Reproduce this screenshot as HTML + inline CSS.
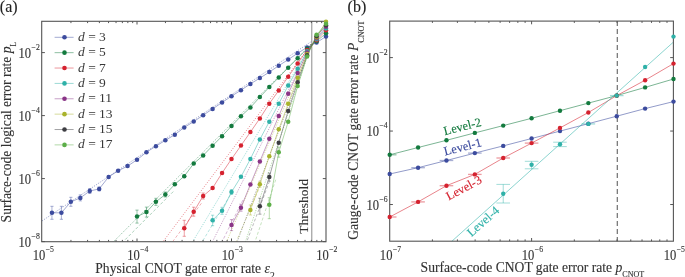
<!DOCTYPE html>
<html><head><meta charset="utf-8"><style>html,body{margin:0;padding:0;background:#fff;overflow:hidden;}svg{display:block;will-change:transform;}text{font-family:"Liberation Serif",serif;stroke-width:0.12px;}</style></head><body>
<svg width="685" height="277" viewBox="0 0 685 277">
<rect width="685" height="277" fill="#fff"/>
<defs><clipPath id="ca"><rect x="41.7" y="21.3" width="284.3" height="220.39999999999998"/></clipPath>
<clipPath id="cb"><rect x="389.6" y="20.7" width="283.79999999999995" height="220.60000000000002"/></clipPath></defs>
<g clip-path="url(#ca)" fill="none" stroke-width="0.7">
<line x1="311.4" y1="41.5" x2="5.86" y2="245" stroke="#3c4b9e" stroke-opacity="0.7" stroke-dasharray="1.2 1.3"/>
<line x1="311.4" y1="44" x2="110.21" y2="245" stroke="#137a3e" stroke-opacity="0.65" stroke-dasharray="1.2 1.3"/>
<line x1="173.26" y1="191.6" x2="119.81" y2="245" stroke="#137a3e" stroke-opacity="0.5" stroke-dasharray="3 2"/>
<line x1="311.4" y1="44" x2="160.51" y2="245" stroke="#d5222f" stroke-opacity="0.65" stroke-dasharray="1.2 1.3"/>
<line x1="201.41" y1="203.3" x2="170.11" y2="245" stroke="#d5222f" stroke-opacity="0.5" stroke-dasharray="3 2"/>
<line x1="311.4" y1="44" x2="190.69" y2="245" stroke="#2fb1a8" stroke-opacity="0.65" stroke-dasharray="1.2 1.3"/>
<line x1="230.19" y1="195.2" x2="200.29" y2="245" stroke="#2fb1a8" stroke-opacity="0.5" stroke-dasharray="3 2"/>
<line x1="311.4" y1="44" x2="210.8" y2="245" stroke="#8a3587" stroke-opacity="0.65" stroke-dasharray="1.2 1.3"/>
<line x1="242.88" y1="200.1" x2="220.4" y2="245" stroke="#8a3587" stroke-opacity="0.5" stroke-dasharray="3 2"/>
<line x1="311.4" y1="44" x2="225.18" y2="245" stroke="#a9b32c" stroke-opacity="0.65" stroke-dasharray="1.2 1.3"/>
<line x1="260.51" y1="185" x2="234.78" y2="245" stroke="#a9b32c" stroke-opacity="0.5" stroke-dasharray="3 2"/>
<line x1="311.4" y1="44" x2="235.95" y2="245" stroke="#3d3d42" stroke-opacity="0.65" stroke-dasharray="1.2 1.3"/>
<line x1="269.5" y1="181.2" x2="245.55" y2="245" stroke="#3d3d42" stroke-opacity="0.5" stroke-dasharray="3 2"/>
<line x1="311.4" y1="44" x2="244.34" y2="245" stroke="#5cae48" stroke-opacity="0.65" stroke-dasharray="1.2 1.3"/>
<line x1="275.72" y1="179.7" x2="253.94" y2="245" stroke="#5cae48" stroke-opacity="0.5" stroke-dasharray="3 2"/>
</g>
<line x1="311.8" y1="21.3" x2="311.8" y2="241.7" stroke="#8a8a8a" stroke-width="1"/>
<g>
<polyline fill="none" stroke="#3c4b9e" stroke-opacity="0.75" stroke-width="0.65" points="51.95,212.8 61.4,212.8 70.85,201.8 80.3,197.9 89.75,191 99.2,188.9 108.65,176.9 118.1,170.8 127.55,166.1 137,159.8 146.45,152.2 155.9,146.2 165.35,140.3 174.8,134.7 184.25,127.4 193.7,121.6 203.15,115.2 212.6,108.9 222.05,102.5 231.5,96.2 240.95,90.2 250.4,83.9 259.85,78.1 269.3,72.1 278.75,65.7 288.2,59.6 297.65,53.2 307.1,47.4 316.55,42.6 326,36.5"/>
<path d="M51.95 206.3V219.3M50.35 206.3H53.55M50.35 219.3H53.55" stroke="#3c4b9e" stroke-opacity="0.55" stroke-width="0.8" fill="none"/>
<path d="M61.4 206.3V219.3M59.8 206.3H63M59.8 219.3H63" stroke="#3c4b9e" stroke-opacity="0.55" stroke-width="0.8" fill="none"/>
<path d="M70.85 197.3V206.3M69.25 197.3H72.45M69.25 206.3H72.45" stroke="#3c4b9e" stroke-opacity="0.55" stroke-width="0.8" fill="none"/>
<path d="M80.3 194.9V200.9M78.7 194.9H81.9M78.7 200.9H81.9" stroke="#3c4b9e" stroke-opacity="0.55" stroke-width="0.8" fill="none"/>
<path d="M89.75 188.5V193.5M88.15 188.5H91.35M88.15 193.5H91.35" stroke="#3c4b9e" stroke-opacity="0.55" stroke-width="0.8" fill="none"/>
<path d="M99.2 186.9V190.9M97.6 186.9H100.8M97.6 190.9H100.8" stroke="#3c4b9e" stroke-opacity="0.55" stroke-width="0.8" fill="none"/>
<polyline fill="none" stroke="#137a3e" stroke-opacity="0.75" stroke-width="0.65" points="137,216.6 146.45,212.1 155.9,201.8 165.35,194.5 174.8,184.3 184.25,176.2 193.7,163.6 203.15,155.5 212.6,145.7 222.05,136.2 231.5,126.1 240.95,116.2 250.4,107.5 259.85,97.1 269.3,87.1 278.75,77.4 288.2,67.7 297.65,58.2 307.1,48.7 316.55,41.3 326,33.3"/>
<path d="M137 210.1V223.1M135.4 210.1H138.6M135.4 223.1H138.6" stroke="#137a3e" stroke-opacity="0.55" stroke-width="0.8" fill="none"/>
<path d="M146.45 207.1V217.1M144.85 207.1H148.05M144.85 217.1H148.05" stroke="#137a3e" stroke-opacity="0.55" stroke-width="0.8" fill="none"/>
<path d="M155.9 198.3V205.3M154.3 198.3H157.5M154.3 205.3H157.5" stroke="#137a3e" stroke-opacity="0.55" stroke-width="0.8" fill="none"/>
<path d="M165.35 192V197M163.75 192H166.95M163.75 197H166.95" stroke="#137a3e" stroke-opacity="0.55" stroke-width="0.8" fill="none"/>
<polyline fill="none" stroke="#d5222f" stroke-opacity="0.75" stroke-width="0.65" points="184.25,228.3 193.7,211.7 203.15,196 212.6,188 222.05,173 231.5,159 240.95,145.6 250.4,132.1 259.85,118.4 269.3,103.7 278.75,90.5 288.2,76.7 297.65,63.5 307.1,50 316.55,40.2 326,30.3"/>
<path d="M184.25 220.3V236.3M182.65 220.3H185.85M182.65 236.3H185.85" stroke="#d5222f" stroke-opacity="0.55" stroke-width="0.8" fill="none"/>
<path d="M193.7 207.2V216.2M192.1 207.2H195.3M192.1 216.2H195.3" stroke="#d5222f" stroke-opacity="0.55" stroke-width="0.8" fill="none"/>
<path d="M203.15 193V199M201.55 193H204.75M201.55 199H204.75" stroke="#d5222f" stroke-opacity="0.55" stroke-width="0.8" fill="none"/>
<polyline fill="none" stroke="#2fb1a8" stroke-opacity="0.75" stroke-width="0.65" points="212.6,220.2 222.05,210.8 231.5,192 240.95,176.8 250.4,159 259.85,139.4 269.3,121.7 278.75,103.7 288.2,85.6 297.65,68.7 307.1,51.3 316.55,39.2 326,28.5"/>
<path d="M212.6 215.2V225.7M211 215.2H214.2M211 225.7H214.2" stroke="#2fb1a8" stroke-opacity="0.55" stroke-width="0.8" fill="none"/>
<path d="M222.05 207.3V214.3M220.45 207.3H223.65M220.45 214.3H223.65" stroke="#2fb1a8" stroke-opacity="0.55" stroke-width="0.8" fill="none"/>
<path d="M231.5 189.5V194.5M229.9 189.5H233.1M229.9 194.5H233.1" stroke="#2fb1a8" stroke-opacity="0.55" stroke-width="0.8" fill="none"/>
<polyline fill="none" stroke="#8a3587" stroke-opacity="0.75" stroke-width="0.65" points="231.5,225.1 240.95,207.7 250.4,184.4 259.85,161.4 269.3,138.8 278.75,116 288.2,93.7 297.65,73.1 307.1,52.6 316.55,38.2 326,26.8"/>
<path d="M231.5 219.6V230.6M229.9 219.6H233.1M229.9 230.6H233.1" stroke="#8a3587" stroke-opacity="0.55" stroke-width="0.8" fill="none"/>
<path d="M240.95 204.2V211.2M239.35 204.2H242.55M239.35 211.2H242.55" stroke="#8a3587" stroke-opacity="0.55" stroke-width="0.8" fill="none"/>
<polyline fill="none" stroke="#a9b32c" stroke-opacity="0.75" stroke-width="0.65" points="250.4,210 259.85,184.3 269.3,156.3 278.75,129.3 288.2,103.7 297.65,77.8 307.1,53.9 316.55,37.2 326,21.8"/>
<path d="M250.4 205V215M248.8 205H252M248.8 215H252" stroke="#a9b32c" stroke-opacity="0.55" stroke-width="0.8" fill="none"/>
<path d="M259.85 181.3V187.3M258.25 181.3H261.45M258.25 187.3H261.45" stroke="#a9b32c" stroke-opacity="0.55" stroke-width="0.8" fill="none"/>
<polyline fill="none" stroke="#3d3d42" stroke-opacity="0.75" stroke-width="0.65" points="259.85,206.2 269.3,177.1 278.75,142.8 288.2,110.9 297.65,82.2 307.1,55.2 316.55,36.2 326,25.2"/>
<path d="M259.85 198.2V214.2M258.25 198.2H261.45M258.25 214.2H261.45" stroke="#3d3d42" stroke-opacity="0.55" stroke-width="0.8" fill="none"/>
<path d="M269.3 173.1V181.1M267.7 173.1H270.9M267.7 181.1H270.9" stroke="#3d3d42" stroke-opacity="0.55" stroke-width="0.8" fill="none"/>
<polyline fill="none" stroke="#5cae48" stroke-opacity="0.75" stroke-width="0.65" points="269.3,204.7 278.75,152.2 288.2,121.7 297.65,86.1 307.1,56.5 316.55,34.8 326,23.8"/>
<path d="M269.3 197.7V218.7M267.7 197.7H270.9M267.7 218.7H270.9" stroke="#5cae48" stroke-opacity="0.55" stroke-width="0.8" fill="none"/>
<path d="M278.75 147.2V157.2M277.15 147.2H280.35M277.15 157.2H280.35" stroke="#5cae48" stroke-opacity="0.55" stroke-width="0.8" fill="none"/>
</g>
<path d="M70.95 241.7v-1.8M70.95 21.3v1.8M87.59 241.7v-1.8M87.59 21.3v1.8M99.39 241.7v-1.8M99.39 21.3v1.8M108.55 241.7v-1.8M108.55 21.3v1.8M116.04 241.7v-1.8M116.04 21.3v1.8M122.36 241.7v-1.8M122.36 21.3v1.8M127.84 241.7v-1.8M127.84 21.3v1.8M132.68 241.7v-1.8M132.68 21.3v1.8M137 241.7v-3.2M137 21.3v3.2M165.45 241.7v-1.8M165.45 21.3v1.8M182.09 241.7v-1.8M182.09 21.3v1.8M193.89 241.7v-1.8M193.89 21.3v1.8M203.05 241.7v-1.8M203.05 21.3v1.8M210.54 241.7v-1.8M210.54 21.3v1.8M216.86 241.7v-1.8M216.86 21.3v1.8M222.34 241.7v-1.8M222.34 21.3v1.8M227.18 241.7v-1.8M227.18 21.3v1.8M231.5 241.7v-3.2M231.5 21.3v3.2M259.95 241.7v-1.8M259.95 21.3v1.8M276.59 241.7v-1.8M276.59 21.3v1.8M288.39 241.7v-1.8M288.39 21.3v1.8M297.55 241.7v-1.8M297.55 21.3v1.8M305.04 241.7v-1.8M305.04 21.3v1.8M311.36 241.7v-1.8M311.36 21.3v1.8M316.84 241.7v-1.8M316.84 21.3v1.8M321.68 241.7v-1.8M321.68 21.3v1.8M41.7 52.6h3.2M326.0 52.6h-3.2M41.7 115.6h3.2M326.0 115.6h-3.2M41.7 178.6h3.2M326.0 178.6h-3.2M41.7 241.6h3.2M326.0 241.6h-3.2" stroke="#555" stroke-width="1" fill="none"/>
<rect x="41.7" y="21.3" width="284.3" height="220.4" fill="none" stroke="#555" stroke-width="1.1"/>
<circle cx="51.95" cy="212.8" r="2.25" fill="#3c4b9e"/>
<circle cx="61.4" cy="212.8" r="2.25" fill="#3c4b9e"/>
<circle cx="70.85" cy="201.8" r="2.25" fill="#3c4b9e"/>
<circle cx="80.3" cy="197.9" r="2.25" fill="#3c4b9e"/>
<circle cx="89.75" cy="191" r="2.25" fill="#3c4b9e"/>
<circle cx="99.2" cy="188.9" r="2.25" fill="#3c4b9e"/>
<circle cx="108.65" cy="176.9" r="2.25" fill="#3c4b9e"/>
<circle cx="118.1" cy="170.8" r="2.25" fill="#3c4b9e"/>
<circle cx="127.55" cy="166.1" r="2.25" fill="#3c4b9e"/>
<circle cx="137" cy="159.8" r="2.25" fill="#3c4b9e"/>
<circle cx="146.45" cy="152.2" r="2.25" fill="#3c4b9e"/>
<circle cx="155.9" cy="146.2" r="2.25" fill="#3c4b9e"/>
<circle cx="165.35" cy="140.3" r="2.25" fill="#3c4b9e"/>
<circle cx="174.8" cy="134.7" r="2.25" fill="#3c4b9e"/>
<circle cx="184.25" cy="127.4" r="2.25" fill="#3c4b9e"/>
<circle cx="193.7" cy="121.6" r="2.25" fill="#3c4b9e"/>
<circle cx="203.15" cy="115.2" r="2.25" fill="#3c4b9e"/>
<circle cx="212.6" cy="108.9" r="2.25" fill="#3c4b9e"/>
<circle cx="222.05" cy="102.5" r="2.25" fill="#3c4b9e"/>
<circle cx="231.5" cy="96.2" r="2.25" fill="#3c4b9e"/>
<circle cx="240.95" cy="90.2" r="2.25" fill="#3c4b9e"/>
<circle cx="250.4" cy="83.9" r="2.25" fill="#3c4b9e"/>
<circle cx="259.85" cy="78.1" r="2.25" fill="#3c4b9e"/>
<circle cx="269.3" cy="72.1" r="2.25" fill="#3c4b9e"/>
<circle cx="278.75" cy="65.7" r="2.25" fill="#3c4b9e"/>
<circle cx="288.2" cy="59.6" r="2.25" fill="#3c4b9e"/>
<circle cx="297.65" cy="53.2" r="2.25" fill="#3c4b9e"/>
<circle cx="307.1" cy="47.4" r="2.25" fill="#3c4b9e"/>
<circle cx="316.55" cy="42.6" r="2.25" fill="#3c4b9e"/>
<circle cx="326" cy="36.5" r="2.25" fill="#3c4b9e"/>
<circle cx="137" cy="216.6" r="2.25" fill="#137a3e"/>
<circle cx="146.45" cy="212.1" r="2.25" fill="#137a3e"/>
<circle cx="155.9" cy="201.8" r="2.25" fill="#137a3e"/>
<circle cx="165.35" cy="194.5" r="2.25" fill="#137a3e"/>
<circle cx="174.8" cy="184.3" r="2.25" fill="#137a3e"/>
<circle cx="184.25" cy="176.2" r="2.25" fill="#137a3e"/>
<circle cx="193.7" cy="163.6" r="2.25" fill="#137a3e"/>
<circle cx="203.15" cy="155.5" r="2.25" fill="#137a3e"/>
<circle cx="212.6" cy="145.7" r="2.25" fill="#137a3e"/>
<circle cx="222.05" cy="136.2" r="2.25" fill="#137a3e"/>
<circle cx="231.5" cy="126.1" r="2.25" fill="#137a3e"/>
<circle cx="240.95" cy="116.2" r="2.25" fill="#137a3e"/>
<circle cx="250.4" cy="107.5" r="2.25" fill="#137a3e"/>
<circle cx="259.85" cy="97.1" r="2.25" fill="#137a3e"/>
<circle cx="269.3" cy="87.1" r="2.25" fill="#137a3e"/>
<circle cx="278.75" cy="77.4" r="2.25" fill="#137a3e"/>
<circle cx="288.2" cy="67.7" r="2.25" fill="#137a3e"/>
<circle cx="297.65" cy="58.2" r="2.25" fill="#137a3e"/>
<circle cx="307.1" cy="48.7" r="2.25" fill="#137a3e"/>
<circle cx="316.55" cy="41.3" r="2.25" fill="#137a3e"/>
<circle cx="326" cy="33.3" r="2.25" fill="#137a3e"/>
<circle cx="184.25" cy="228.3" r="2.25" fill="#d5222f"/>
<circle cx="193.7" cy="211.7" r="2.25" fill="#d5222f"/>
<circle cx="203.15" cy="196" r="2.25" fill="#d5222f"/>
<circle cx="212.6" cy="188" r="2.25" fill="#d5222f"/>
<circle cx="222.05" cy="173" r="2.25" fill="#d5222f"/>
<circle cx="231.5" cy="159" r="2.25" fill="#d5222f"/>
<circle cx="240.95" cy="145.6" r="2.25" fill="#d5222f"/>
<circle cx="250.4" cy="132.1" r="2.25" fill="#d5222f"/>
<circle cx="259.85" cy="118.4" r="2.25" fill="#d5222f"/>
<circle cx="269.3" cy="103.7" r="2.25" fill="#d5222f"/>
<circle cx="278.75" cy="90.5" r="2.25" fill="#d5222f"/>
<circle cx="288.2" cy="76.7" r="2.25" fill="#d5222f"/>
<circle cx="297.65" cy="63.5" r="2.25" fill="#d5222f"/>
<circle cx="307.1" cy="50" r="2.25" fill="#d5222f"/>
<circle cx="316.55" cy="40.2" r="2.25" fill="#d5222f"/>
<circle cx="326" cy="30.3" r="2.25" fill="#d5222f"/>
<circle cx="212.6" cy="220.2" r="2.25" fill="#2fb1a8"/>
<circle cx="222.05" cy="210.8" r="2.25" fill="#2fb1a8"/>
<circle cx="231.5" cy="192" r="2.25" fill="#2fb1a8"/>
<circle cx="240.95" cy="176.8" r="2.25" fill="#2fb1a8"/>
<circle cx="250.4" cy="159" r="2.25" fill="#2fb1a8"/>
<circle cx="259.85" cy="139.4" r="2.25" fill="#2fb1a8"/>
<circle cx="269.3" cy="121.7" r="2.25" fill="#2fb1a8"/>
<circle cx="278.75" cy="103.7" r="2.25" fill="#2fb1a8"/>
<circle cx="288.2" cy="85.6" r="2.25" fill="#2fb1a8"/>
<circle cx="297.65" cy="68.7" r="2.25" fill="#2fb1a8"/>
<circle cx="307.1" cy="51.3" r="2.25" fill="#2fb1a8"/>
<circle cx="316.55" cy="39.2" r="2.25" fill="#2fb1a8"/>
<circle cx="326" cy="28.5" r="2.25" fill="#2fb1a8"/>
<circle cx="231.5" cy="225.1" r="2.25" fill="#8a3587"/>
<circle cx="240.95" cy="207.7" r="2.25" fill="#8a3587"/>
<circle cx="250.4" cy="184.4" r="2.25" fill="#8a3587"/>
<circle cx="259.85" cy="161.4" r="2.25" fill="#8a3587"/>
<circle cx="269.3" cy="138.8" r="2.25" fill="#8a3587"/>
<circle cx="278.75" cy="116" r="2.25" fill="#8a3587"/>
<circle cx="288.2" cy="93.7" r="2.25" fill="#8a3587"/>
<circle cx="297.65" cy="73.1" r="2.25" fill="#8a3587"/>
<circle cx="307.1" cy="52.6" r="2.25" fill="#8a3587"/>
<circle cx="316.55" cy="38.2" r="2.25" fill="#8a3587"/>
<circle cx="326" cy="26.8" r="2.25" fill="#8a3587"/>
<circle cx="250.4" cy="210" r="2.25" fill="#a9b32c"/>
<circle cx="259.85" cy="184.3" r="2.25" fill="#a9b32c"/>
<circle cx="269.3" cy="156.3" r="2.25" fill="#a9b32c"/>
<circle cx="278.75" cy="129.3" r="2.25" fill="#a9b32c"/>
<circle cx="288.2" cy="103.7" r="2.25" fill="#a9b32c"/>
<circle cx="297.65" cy="77.8" r="2.25" fill="#a9b32c"/>
<circle cx="307.1" cy="53.9" r="2.25" fill="#a9b32c"/>
<circle cx="316.55" cy="37.2" r="2.25" fill="#a9b32c"/>
<circle cx="326" cy="21.8" r="2.25" fill="#a9b32c"/>
<circle cx="259.85" cy="206.2" r="2.25" fill="#3d3d42"/>
<circle cx="269.3" cy="177.1" r="2.25" fill="#3d3d42"/>
<circle cx="278.75" cy="142.8" r="2.25" fill="#3d3d42"/>
<circle cx="288.2" cy="110.9" r="2.25" fill="#3d3d42"/>
<circle cx="297.65" cy="82.2" r="2.25" fill="#3d3d42"/>
<circle cx="307.1" cy="55.2" r="2.25" fill="#3d3d42"/>
<circle cx="316.55" cy="36.2" r="2.25" fill="#3d3d42"/>
<circle cx="326" cy="25.2" r="2.25" fill="#3d3d42"/>
<circle cx="269.3" cy="204.7" r="2.25" fill="#5cae48"/>
<circle cx="278.75" cy="152.2" r="2.25" fill="#5cae48"/>
<circle cx="288.2" cy="121.7" r="2.25" fill="#5cae48"/>
<circle cx="297.65" cy="86.1" r="2.25" fill="#5cae48"/>
<circle cx="307.1" cy="56.5" r="2.25" fill="#5cae48"/>
<circle cx="316.55" cy="34.8" r="2.25" fill="#5cae48"/>
<circle cx="326" cy="23.8" r="2.25" fill="#5cae48"/>
<line x1="54.6" y1="37.3" x2="73.6" y2="37.3" stroke="#3c4b9e" stroke-opacity="0.6" stroke-width="0.8"/>
<circle cx="64.5" cy="37.3" r="2.3" fill="#3c4b9e"/>
<text x="78" y="40.8" font-size="13.5" fill="#383838" stroke="none" style="font-family:'Liberation Serif', serif"><tspan font-style="italic">d</tspan> = 3</text>
<line x1="54.6" y1="52.67" x2="73.6" y2="52.67" stroke="#137a3e" stroke-opacity="0.6" stroke-width="0.8"/>
<circle cx="64.5" cy="52.67" r="2.3" fill="#137a3e"/>
<text x="78" y="56.17" font-size="13.5" fill="#383838" stroke="none" style="font-family:'Liberation Serif', serif"><tspan font-style="italic">d</tspan> = 5</text>
<line x1="54.6" y1="68.04" x2="73.6" y2="68.04" stroke="#d5222f" stroke-opacity="0.6" stroke-width="0.8"/>
<circle cx="64.5" cy="68.04" r="2.3" fill="#d5222f"/>
<text x="78" y="71.54" font-size="13.5" fill="#383838" stroke="none" style="font-family:'Liberation Serif', serif"><tspan font-style="italic">d</tspan> = 7</text>
<line x1="54.6" y1="83.41" x2="73.6" y2="83.41" stroke="#2fb1a8" stroke-opacity="0.6" stroke-width="0.8"/>
<circle cx="64.5" cy="83.41" r="2.3" fill="#2fb1a8"/>
<text x="78" y="86.91" font-size="13.5" fill="#383838" stroke="none" style="font-family:'Liberation Serif', serif"><tspan font-style="italic">d</tspan> = 9</text>
<line x1="54.6" y1="98.78" x2="73.6" y2="98.78" stroke="#8a3587" stroke-opacity="0.6" stroke-width="0.8"/>
<circle cx="64.5" cy="98.78" r="2.3" fill="#8a3587"/>
<text x="78" y="102.28" font-size="13.5" fill="#383838" stroke="none" style="font-family:'Liberation Serif', serif"><tspan font-style="italic">d</tspan> = 11</text>
<line x1="54.6" y1="114.15" x2="73.6" y2="114.15" stroke="#a9b32c" stroke-opacity="0.6" stroke-width="0.8"/>
<circle cx="64.5" cy="114.15" r="2.3" fill="#a9b32c"/>
<text x="78" y="117.65" font-size="13.5" fill="#383838" stroke="none" style="font-family:'Liberation Serif', serif"><tspan font-style="italic">d</tspan> = 13</text>
<line x1="54.6" y1="129.52" x2="73.6" y2="129.52" stroke="#3d3d42" stroke-opacity="0.6" stroke-width="0.8"/>
<circle cx="64.5" cy="129.52" r="2.3" fill="#3d3d42"/>
<text x="78" y="133.02" font-size="13.5" fill="#383838" stroke="none" style="font-family:'Liberation Serif', serif"><tspan font-style="italic">d</tspan> = 15</text>
<line x1="54.6" y1="144.89" x2="73.6" y2="144.89" stroke="#5cae48" stroke-opacity="0.6" stroke-width="0.8"/>
<circle cx="64.5" cy="144.89" r="2.3" fill="#5cae48"/>
<text x="78" y="148.39" font-size="13.5" fill="#383838" stroke="none" style="font-family:'Liberation Serif', serif"><tspan font-style="italic">d</tspan> = 17</text>
<text transform="translate(39.8,57.8) scale(0.9,1)" text-anchor="end" font-size="14" fill="#333" stroke="#333" stroke-width="0.12" style="font-family:'Liberation Serif', serif">10<tspan dx="0.5" dy="-7.9" font-size="8.6">−2</tspan></text>
<text transform="translate(39.8,120.8) scale(0.9,1)" text-anchor="end" font-size="14" fill="#333" stroke="#333" stroke-width="0.12" style="font-family:'Liberation Serif', serif">10<tspan dx="0.5" dy="-7.9" font-size="8.6">−4</tspan></text>
<text transform="translate(39.8,183.8) scale(0.9,1)" text-anchor="end" font-size="14" fill="#333" stroke="#333" stroke-width="0.12" style="font-family:'Liberation Serif', serif">10<tspan dx="0.5" dy="-7.9" font-size="8.6">−6</tspan></text>
<text transform="translate(39.8,246.8) scale(0.9,1)" text-anchor="end" font-size="14" fill="#333" stroke="#333" stroke-width="0.12" style="font-family:'Liberation Serif', serif">10<tspan dx="0.5" dy="-7.9" font-size="8.6">−8</tspan></text>
<text transform="translate(43.3,260.2) scale(0.9,1)" text-anchor="middle" font-size="14" fill="#333" stroke="#333" stroke-width="0.12" style="font-family:'Liberation Serif', serif">10<tspan dx="0.5" dy="-7.9" font-size="8.6">−5</tspan></text>
<text transform="translate(137.8,260.2) scale(0.9,1)" text-anchor="middle" font-size="14" fill="#333" stroke="#333" stroke-width="0.12" style="font-family:'Liberation Serif', serif">10<tspan dx="0.5" dy="-7.9" font-size="8.6">−4</tspan></text>
<text transform="translate(232.3,260.2) scale(0.9,1)" text-anchor="middle" font-size="14" fill="#333" stroke="#333" stroke-width="0.12" style="font-family:'Liberation Serif', serif">10<tspan dx="0.5" dy="-7.9" font-size="8.6">−3</tspan></text>
<text transform="translate(326.8,260.2) scale(0.9,1)" text-anchor="middle" font-size="14" fill="#333" stroke="#333" stroke-width="0.12" style="font-family:'Liberation Serif', serif">10<tspan dx="0.5" dy="-7.9" font-size="8.6">−2</tspan></text>
<text x="95.3" y="273.1" font-size="13.6" fill="#333" stroke="#333" style="font-family:'Liberation Serif', serif">Physical CNOT gate error rate <tspan font-style="italic">ε</tspan><tspan dy="5.5" font-size="9.5">2</tspan></text>
<text transform="translate(11.3,222.4) rotate(-90)" font-size="13.6" fill="#333" stroke="#333" style="font-family:'Liberation Serif', serif">Surface-code logical error rate <tspan font-style="italic">p</tspan><tspan dy="4.2" font-size="7.5">L</tspan></text>
<text transform="translate(307.6,233.7) rotate(-90)" font-size="13.5" fill="#333" stroke="#333" style="font-family:'Liberation Serif', serif">Threshold</text>
<text x="-0.2" y="11.9" font-size="16" fill="#222" stroke="#222" style="font-family:'Liberation Serif', serif">(a)</text>
<line x1="617.3" y1="21.1" x2="617.3" y2="241.2" stroke="#6e6e6e" stroke-width="1.2" stroke-dasharray="5 3"/>
<g>
<line x1="411.28" y1="167.7" x2="424.88" y2="167.7" stroke="#3c4b9e" stroke-opacity="0.45" stroke-width="1.3"/>
<line x1="439.66" y1="160.5" x2="453.26" y2="160.5" stroke="#3c4b9e" stroke-opacity="0.45" stroke-width="1.3"/>
<line x1="468.04" y1="153.1" x2="481.64" y2="153.1" stroke="#3c4b9e" stroke-opacity="0.45" stroke-width="1.3"/>
<line x1="389.7" y1="217" x2="396.5" y2="217" stroke="#d5222f" stroke-opacity="0.45" stroke-width="1.3"/>
<line x1="411.28" y1="201.9" x2="424.88" y2="201.9" stroke="#d5222f" stroke-opacity="0.45" stroke-width="1.3"/>
<line x1="439.66" y1="185.7" x2="453.26" y2="185.7" stroke="#d5222f" stroke-opacity="0.45" stroke-width="1.3"/>
<line x1="468.04" y1="174.4" x2="481.64" y2="174.4" stroke="#d5222f" stroke-opacity="0.45" stroke-width="1.3"/>
<line x1="496.42" y1="158" x2="510.02" y2="158" stroke="#d5222f" stroke-opacity="0.45" stroke-width="1.3"/>
<line x1="524.8" y1="143.1" x2="538.4" y2="143.1" stroke="#d5222f" stroke-opacity="0.45" stroke-width="1.3"/>
<line x1="389.7" y1="154.8" x2="396.5" y2="154.8" stroke="#137a3e" stroke-opacity="0.45" stroke-width="1.3"/>
<path d="M503.22 184.4V203M496.42 184.4H510.02M496.42 203H510.02" stroke="#2fb1a8" stroke-opacity="0.5" stroke-width="0.9" fill="none"/>
<path d="M531.6 161.3V168.8M524.8 161.3H538.4M524.8 168.8H538.4" stroke="#2fb1a8" stroke-opacity="0.5" stroke-width="0.9" fill="none"/>
<path d="M559.98 142.2V146.6M553.18 142.2H566.78M553.18 146.6H566.78" stroke="#2fb1a8" stroke-opacity="0.5" stroke-width="0.9" fill="none"/>
<line x1="581.56" y1="123.9" x2="595.16" y2="123.9" stroke="#2fb1a8" stroke-opacity="0.45" stroke-width="1.3"/>
<line x1="609.94" y1="95.6" x2="623.54" y2="95.6" stroke="#2fb1a8" stroke-opacity="0.45" stroke-width="1.3"/>
<polyline fill="none" stroke="#3c4b9e" stroke-opacity="0.8" stroke-width="0.7" points="389.7,174 418.08,167.7 446.46,160.5 474.84,153.1 503.22,145.9 531.6,138.5 559.98,131.1 588.36,123.7 616.74,116.2 645.12,108.6 673.5,101.6"/>
<polyline fill="none" stroke="#137a3e" stroke-opacity="0.8" stroke-width="0.7" points="389.7,154.8 418.08,147.5 446.46,140.3 474.84,132.9 503.22,125.6 531.6,118.3 559.98,110.7 588.36,103.1 616.74,95.6 645.12,87.4 673.5,79"/>
<polyline fill="none" stroke="#d5222f" stroke-opacity="0.8" stroke-width="0.7" points="389.7,217 418.08,201.9 446.46,185.7 474.84,174.4 503.22,158 531.6,143.1 559.98,127.9 588.36,112.5 616.74,95.6 645.12,80.2 673.5,63.6"/>
<line x1="451.8" y1="241.3" x2="673.4" y2="42.1" stroke="#2fb1a8" stroke-opacity="0.8" stroke-width="0.7"/>
</g>
<path d="M432.42 241.2v-1.8M432.42 21.1v1.8M457.4 241.2v-1.8M457.4 21.1v1.8M475.13 241.2v-1.8M475.13 21.1v1.8M488.88 241.2v-1.8M488.88 21.1v1.8M500.12 241.2v-1.8M500.12 21.1v1.8M509.62 241.2v-1.8M509.62 21.1v1.8M517.85 241.2v-1.8M517.85 21.1v1.8M525.11 241.2v-1.8M525.11 21.1v1.8M531.6 241.2v-3.2M531.6 21.1v3.2M574.32 241.2v-1.8M574.32 21.1v1.8M599.3 241.2v-1.8M599.3 21.1v1.8M617.03 241.2v-1.8M617.03 21.1v1.8M630.78 241.2v-1.8M630.78 21.1v1.8M642.02 241.2v-1.8M642.02 21.1v1.8M651.52 241.2v-1.8M651.52 21.1v1.8M659.75 241.2v-1.8M659.75 21.1v1.8M667.01 241.2v-1.8M667.01 21.1v1.8M389.7 57.6h3.2M673.4 57.6h-3.2M389.7 131.06h3.2M673.4 131.06h-3.2M389.7 204.52h3.2M673.4 204.52h-3.2" stroke="#555" stroke-width="1" fill="none"/>
<rect x="389.7" y="21.1" width="283.7" height="220.1" fill="none" stroke="#555" stroke-width="1.1"/>
<circle cx="389.7" cy="174" r="2.2" fill="#3c4b9e"/>
<circle cx="418.08" cy="167.7" r="2.2" fill="#3c4b9e"/>
<circle cx="446.46" cy="160.5" r="2.2" fill="#3c4b9e"/>
<circle cx="474.84" cy="153.1" r="2.2" fill="#3c4b9e"/>
<circle cx="503.22" cy="145.9" r="2.2" fill="#3c4b9e"/>
<circle cx="531.6" cy="138.5" r="2.2" fill="#3c4b9e"/>
<circle cx="559.98" cy="131.1" r="2.2" fill="#3c4b9e"/>
<circle cx="588.36" cy="123.7" r="2.2" fill="#3c4b9e"/>
<circle cx="616.74" cy="116.2" r="2.2" fill="#3c4b9e"/>
<circle cx="645.12" cy="108.6" r="2.2" fill="#3c4b9e"/>
<circle cx="673.5" cy="101.6" r="2.2" fill="#3c4b9e"/>
<circle cx="389.7" cy="154.8" r="2.2" fill="#137a3e"/>
<circle cx="418.08" cy="147.5" r="2.2" fill="#137a3e"/>
<circle cx="446.46" cy="140.3" r="2.2" fill="#137a3e"/>
<circle cx="474.84" cy="132.9" r="2.2" fill="#137a3e"/>
<circle cx="503.22" cy="125.6" r="2.2" fill="#137a3e"/>
<circle cx="531.6" cy="118.3" r="2.2" fill="#137a3e"/>
<circle cx="559.98" cy="110.7" r="2.2" fill="#137a3e"/>
<circle cx="588.36" cy="103.1" r="2.2" fill="#137a3e"/>
<circle cx="616.74" cy="95.6" r="2.2" fill="#137a3e"/>
<circle cx="645.12" cy="87.4" r="2.2" fill="#137a3e"/>
<circle cx="673.5" cy="79" r="2.2" fill="#137a3e"/>
<circle cx="389.7" cy="217" r="2.2" fill="#d5222f"/>
<circle cx="418.08" cy="201.9" r="2.2" fill="#d5222f"/>
<circle cx="446.46" cy="185.7" r="2.2" fill="#d5222f"/>
<circle cx="474.84" cy="174.4" r="2.2" fill="#d5222f"/>
<circle cx="503.22" cy="158" r="2.2" fill="#d5222f"/>
<circle cx="531.6" cy="143.1" r="2.2" fill="#d5222f"/>
<circle cx="559.98" cy="127.9" r="2.2" fill="#d5222f"/>
<circle cx="588.36" cy="112.5" r="2.2" fill="#d5222f"/>
<circle cx="616.74" cy="95.6" r="2.2" fill="#d5222f"/>
<circle cx="645.12" cy="80.2" r="2.2" fill="#d5222f"/>
<circle cx="673.5" cy="63.6" r="2.2" fill="#d5222f"/>
<circle cx="503.22" cy="193.8" r="2.2" fill="#2fb1a8"/>
<circle cx="531.6" cy="164.8" r="2.2" fill="#2fb1a8"/>
<circle cx="559.98" cy="144.2" r="2.2" fill="#2fb1a8"/>
<circle cx="588.36" cy="123.9" r="2.2" fill="#2fb1a8"/>
<circle cx="616.74" cy="95.6" r="2.2" fill="#2fb1a8"/>
<circle cx="645.12" cy="67" r="2.2" fill="#2fb1a8"/>
<circle cx="673.5" cy="36.6" r="2.2" fill="#2fb1a8"/>
<text transform="translate(387.7,62.7) scale(0.9,1)" text-anchor="end" font-size="14" fill="#333" stroke="#333" stroke-width="0.12" style="font-family:'Liberation Serif', serif">10<tspan dx="0.5" dy="-7.9" font-size="8.6">−2</tspan></text>
<text transform="translate(387.7,136.16) scale(0.9,1)" text-anchor="end" font-size="14" fill="#333" stroke="#333" stroke-width="0.12" style="font-family:'Liberation Serif', serif">10<tspan dx="0.5" dy="-7.9" font-size="8.6">−4</tspan></text>
<text transform="translate(387.7,209.62) scale(0.9,1)" text-anchor="end" font-size="14" fill="#333" stroke="#333" stroke-width="0.12" style="font-family:'Liberation Serif', serif">10<tspan dx="0.5" dy="-7.9" font-size="8.6">−6</tspan></text>
<text transform="translate(390.5,259.9) scale(0.9,1)" text-anchor="middle" font-size="14" fill="#333" stroke="#333" stroke-width="0.12" style="font-family:'Liberation Serif', serif">10<tspan dx="0.5" dy="-7.9" font-size="8.6">−7</tspan></text>
<text transform="translate(532.4,259.9) scale(0.9,1)" text-anchor="middle" font-size="14" fill="#333" stroke="#333" stroke-width="0.12" style="font-family:'Liberation Serif', serif">10<tspan dx="0.5" dy="-7.9" font-size="8.6">−6</tspan></text>
<text transform="translate(674.3,259.9) scale(0.9,1)" text-anchor="middle" font-size="14" fill="#333" stroke="#333" stroke-width="0.12" style="font-family:'Liberation Serif', serif">10<tspan dx="0.5" dy="-7.9" font-size="8.6">−5</tspan></text>
<text x="420.6" y="272.1" font-size="13.6" fill="#333" stroke="#333" style="font-family:'Liberation Serif', serif">Surface-code CNOT gate error rate <tspan font-style="italic">p</tspan><tspan dy="5.2" font-size="8.1">CNOT</tspan></text>
<text transform="translate(358.3,239.8) rotate(-90)" font-size="13.6" fill="#333" stroke="#333" style="font-family:'Liberation Serif', serif">Gauge-code CNOT gate error rate <tspan font-style="italic">P</tspan><tspan dy="5.6" font-size="8.1">CNOT</tspan></text>
<text x="347.6" y="12.3" font-size="16" fill="#222" stroke="#222" style="font-family:'Liberation Serif', serif">(b)</text>
<text transform="translate(444.8,135.2) rotate(-14.4)" font-size="12.4" fill="#137a3e" stroke="#137a3e" style="font-family:'Liberation Serif', serif">Level-2</text>
<text transform="translate(445,155.6) rotate(-14.4)" font-size="12.4" fill="#3c4b9e" stroke="#3c4b9e" style="font-family:'Liberation Serif', serif">Level-1</text>
<text transform="translate(448.8,200.6) rotate(-28.4)" font-size="12.4" fill="#d5222f" stroke="#d5222f" style="font-family:'Liberation Serif', serif">Level-3</text>
<text transform="translate(471.5,237.3) rotate(-42)" font-size="12.4" fill="#2fb1a8" stroke="#2fb1a8" style="font-family:'Liberation Serif', serif">Level-4</text>
</svg>
</body></html>
